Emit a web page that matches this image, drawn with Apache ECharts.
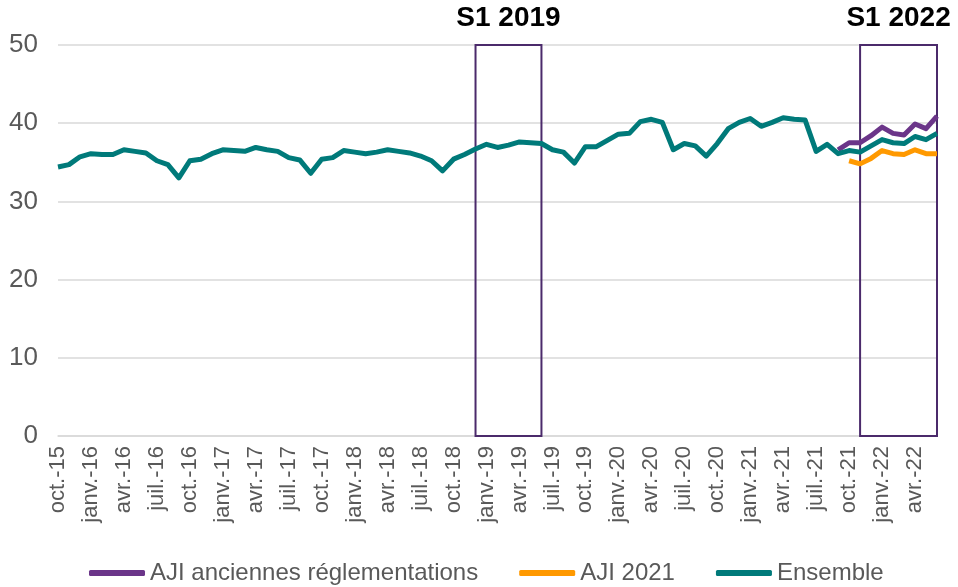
<!DOCTYPE html>
<html>
<head>
<meta charset="utf-8">
<script src="https://cdn.jsdelivr.net/npm/echarts@6/dist/echarts.min.js"></script>
<style>
  html, body { margin: 0; padding: 0; background: #fff; }
  #chart { width: 958px; height: 587px; }
</style>
</head>
<body>
<div id="chart"></div>
<script>
// -----------------------------
// DATA
// -----------------------------
const monthNames = ["janv.", "févr.", "mars", "avr.", "mai", "juin",
                    "juil.", "août", "sept.", "oct.", "nov.", "déc."];

// oct. 2015 -> juin 2022, one category per month
const months = [];
for (let y = 2015, m = 9; y < 2022 || (y === 2022 && m <= 5); ) {
  months.push(monthNames[m] + "-" + String(y).slice(2));
  m++;
  if (m === 12) { m = 0; y++; }
}

const ensemble = [
  34.4, 34.7, 35.7, 36.1, 36.0, 36.0, 36.6, 36.4, 36.2, 35.2, 34.7, 33.0,
  35.2, 35.4, 36.1, 36.6, 36.5, 36.4, 36.9, 36.6, 36.4, 35.6, 35.3, 33.6,
  35.4, 35.6, 36.5, 36.3, 36.1, 36.3, 36.6, 36.4, 36.2, 35.8, 35.2, 33.9,
  35.4, 36.0, 36.7, 37.3, 36.9, 37.2, 37.6, 37.5, 37.4, 36.6, 36.3, 34.9,
  37.0, 37.0, 37.8, 38.6, 38.7, 40.2, 40.5, 40.1, 36.6, 37.4, 37.1, 35.8,
  37.4, 39.3, 40.1, 40.6, 39.6, 40.1, 40.7, 40.5, 40.4, 36.4, 37.3, 36.1,
  36.5, 36.3, 37.1, 37.9, 37.5, 37.4, 38.3, 37.9, 38.7
];

// sept.-21 -> juin-22
const ajiAnciennesStart = "sept.-21";
const ajiAnciennes = [36.6, 37.5, 37.5, 38.4, 39.5, 38.7, 38.5, 39.9, 39.3, 40.9];

// oct.-21 -> juin-22
const aji2021Start = "oct.-21";
const aji2021 = [35.2, 34.8, 35.5, 36.5, 36.1, 36.0, 36.6, 36.1, 36.1];

// highlighted half-years
const periods = [
  { name: "S1 2019", from: "déc.-18", to: "juin-19" },
  { name: "S1 2022", from: "nov.-21", to: "juin-22" }
];

const yTicks = { min: 0, max: 50, interval: 10 };

// -----------------------------
// HELPERS
// -----------------------------
function pad(startLabel, values) {
  const start = months.indexOf(startLabel);
  return months.map((_, i) => (i >= start && i - start < values.length) ? values[i - start] : null);
}

const FONT = "'Liberation Sans', Arial, sans-serif";
const GREY = "#595959";

const chart = echarts.init(document.getElementById("chart"), null, { renderer: "canvas" });

chart.setOption({
  animation: false,
  textStyle: { fontFamily: FONT },
  grid: { left: 58, right: 21, top: 45, bottom: 151 },
  legend: {
    left: 84,
    top: 556,
    itemWidth: 56,
    itemHeight: 6,
    itemGap: 41,
    icon: "roundRect",
    textStyle: { fontFamily: FONT, fontSize: 24, color: GREY },
    data: ["AJI anciennes réglementations", "AJI 2021", "Ensemble"]
  },
  xAxis: {
    type: "category",
    data: months,
    boundaryGap: false,
    axisLine: { show: true, lineStyle: { color: "#d9d9d9", width: 1.5 } },
    axisTick: { show: false },
    axisLabel: {
      interval: 2,
      rotate: 90,
      margin: 10,
      fontSize: 22,
      color: GREY,
      fontFamily: FONT
    },
    splitLine: { show: false }
  },
  yAxis: {
    type: "value",
    min: yTicks.min,
    max: yTicks.max,
    interval: yTicks.interval,
    axisLine: { show: false },
    axisTick: { show: false },
    axisLabel: { fontSize: 26, color: GREY, margin: 20, fontFamily: FONT },
    splitLine: { lineStyle: { color: "#d9d9d9", width: 1.5 } }
  },
  series: [
    {
      name: "AJI anciennes réglementations",
      type: "line",
      data: pad(ajiAnciennesStart, ajiAnciennes),
      showSymbol: false,
      symbol: "none",
      lineStyle: { width: 5, color: "#6b3589", join: "round" },
      itemStyle: { color: "#6b3589" }
    },
    {
      name: "AJI 2021",
      type: "line",
      data: pad(aji2021Start, aji2021),
      showSymbol: false,
      symbol: "none",
      lineStyle: { width: 5, color: "#ff9900", join: "round" },
      itemStyle: { color: "#ff9900" }
    },
    {
      name: "Ensemble",
      type: "line",
      data: ensemble,
      showSymbol: false,
      symbol: "none",
      lineStyle: { width: 5, color: "#007a7a", join: "round" },
      itemStyle: { color: "#007a7a" },
      markArea: {
        silent: true,
        itemStyle: { color: "rgba(0,0,0,0)", borderColor: "#4b2a6b", borderWidth: 2 },
        label: {
          show: true,
          position: "top",
          distance: 12,
          fontFamily: FONT,
          fontSize: 28,
          fontWeight: "bold",
          color: "#000"
        },
        data: periods.map(p => [
          { name: p.name, xAxis: p.from, yAxis: yTicks.min },
          { xAxis: p.to, yAxis: yTicks.max }
        ])
      }
    }
  ]
});
</script>
</body>
</html>
